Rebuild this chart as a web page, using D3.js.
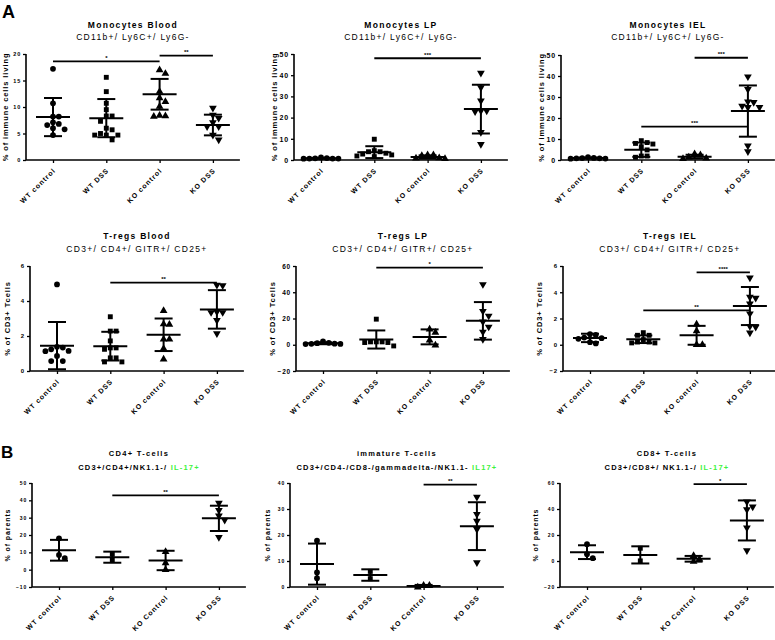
<!DOCTYPE html>
<html><head><meta charset="utf-8">
<script src="https://cdn.jsdelivr.net/npm/d3@7"></script>
<style>body{margin:0;background:#fff} text{font-family:Arial,"Liberation Sans",sans-serif;fill:#000}</style>
</head><body><svg id="c" width="775" height="640"></svg>
<script>
// ---------- data ----------
const categories = ["WT control", "WT DSS", "KO control", "KO DSS"];
const categoriesB = ["WT control", "WT DSS", "KO Control", "KO DSS"];

// Monocytes Blood
const monoBloodValues = [
  [17.2, 10.7, 8.2, 8.2, 7.1, 6.8, 6.6, 6.0, 5.8, 4.7],
  [15.6, 12.9, 10.7, 9.5, 8.3, 8.3, 7.3, 6.0, 5.7, 5.0, 4.7, 4.7, 4.7, 3.8],
  [17.0, 16.3, 12.9, 11.7, 11.0, 10.1, 8.4, 8.2, 8.3],
  [9.8, 8.5, 7.9, 7.1, 6.3, 6.3, 4.7, 3.8]];
const monoBloodMean = [8.1, 7.9, 12.4, 6.6];
const monoBloodSD = [3.6, 3.6, 2.9, 1.95];
const monoBloodSig = [[0, 2, 18.6, "*"], [2, 3, 19.7, "**"]];
const monoBloodTicks = [0, 5, 10, 15, 20];

// Monocytes LP
const monoLPValues = [
  [0.8, 0.7, 0.7, 0.6, 0.7, 0.9, 1.2],
  [9.8, 4.4, 3.9, 3.9, 3.2, 2.8, 2.4, 1.9, 1.6],
  [2.4, 2.4, 2.0, 0.9, 0.6, 0.8],
  [41, 34.2, 27.9, 23.2, 23.2, 22.9, 13.1, 7.4]];
const monoLPMean = [0.8, 3.7, 1.4, 24.0];
const monoLPSD = [0.2, 2.8, 0.8, 11.5];
const monoLPSig = [[1, 3, 48, "***"]];
const monoLPTicks = [0, 10, 20, 30, 40, 50];

// Monocytes IEL
const monoIELValues = [
  [0.9, 0.8, 0.6, 0.7, 0.8, 1.0, 1.4],
  [9.2, 8.3, 7.9, 7.6, 6.3, 4.8, 1.9, 1.9, 1.3],
  [2.9, 2.4, 1.3, 0.8, 0.6],
  [39.7, 33.7, 27.8, 27.5, 25.7, 25.1, 25.1, 6.8, 4.0]];
const monoIELMean = [0.9, 4.9, 1.6, 23.3];
const monoIELSD = [0.25, 3.4, 0.9, 12.2];
const monoIELSig = [[2, 3, 48.7, "***"], [1, 3, 15.9, "***"]];
const monoIELTicks = [0, 10, 20, 30, 40, 50];

// T-regs Blood
const tregBloodValues = [
  [4.95, 1.38, 1.34, 1.24, 1.15, 1.13, 0.86, 0.57, 0.57],
  [3.1, 2.28, 2.28, 1.72, 1.32, 1.32, 1.24, 0.75, 0.75, 0.52, 0.52],
  [3.44, 2.68, 2.66, 1.82, 1.82, 1.28, 0.67],
  [4.91, 4.88, 3.38, 3.35, 3.35, 2.9, 2.14]];
const tregBloodMean = [1.45, 1.42, 2.07, 3.52];
const tregBloodSD = [1.35, 0.82, 0.93, 1.1];
const tregBloodSig = [[1, 3, 5.05, "**"]];
const tregBloodTicks = [0, 2, 4, 6];

// T-regs LP
const tregLPValues = [
  [1.5, 0.8, 0.5, 0.6, 0.7, 1.2, 2.5],
  [19.5, 2.2, 2.2, 2.2, 1.7, 1.7, -0.9],
  [11.8, 9.3, 3.4, -0.4],
  [46, 25.6, 22.0, 17.5, 13.6, 9.8, 4.2]];
const tregLPMean = [1.1, 4.0, 6.0, 18.2];
const tregLPSD = [0.7, 6.9, 5.7, 14.3];
const tregLPSig = [[1, 3, 58.7, "*"]];
const tregLPTicks = [-20, 0, 20, 40, 60];

// T-regs IEL
const tregIELValues = [
  [0.8, 0.75, 0.55, 0.5, 0.45, 0.2, 0.1],
  [0.92, 0.72, 0.72, 0.39, 0.21, 0.21, 0.14, 0.14],
  [1.56, 1.05, 0.0, 0.0],
  [5.11, 3.64, 3.56, 3.13, 2.37, 1.41, 1.35, 0.92]];
const tregIELMean = [0.52, 0.42, 0.72, 2.95];
const tregIELSD = [0.32, 0.29, 0.72, 1.45];
const tregIELSig = [[2, 3, 5.52, "****"], [1, 3, 2.62, "**"]];
const tregIELTicks = [-2, 0, 2, 4, 6];

// CD4+ T-cells IL-17+
const cd4Values = [[18.1, 8.5, 6.6], [8.9, 5.7], [10.4, 3.8, -0.1], [38.5, 34.3, 31.1, 28.6, 18.7]];
const cd4Mean = [11.2, 7.2, 5.3, 29.6];
const cd4SD = [6.0, 3.2, 5.6, 7.3];
const cd4Sig = [[1, 3, 42.9, "**"]];
const cd4Ticks = [-10, 0, 10, 20, 30, 40, 50];

// immature T-cells IL17+
const immValues = [[17.8, 5.6, 3.4], [6.0, 3.2], [0.6, 0.6, -0.1], [34.6, 28.0, 25.4, 22.2, 9.4]];
const immMean = [8.8, 4.6, 0.4, 23.4];
const immSD = [7.9, 2.2, 0.4, 9.2];
const immSig = [[2, 3, 39.4, "**"]];
const immTicks = [0, 10, 20, 30, 40];

// CD8+ T-cells IL-17+
const cd8Values = [[12.9, 5.2, 2.2], [9.8, 0.1], [4.0, 1.4, -0.4], [45.5, 41.7, 39.6, 25.6, 8.0]];
const cd8Mean = [6.8, 4.7, 1.7, 31.2];
const cd8SD = [5.3, 6.6, 2.2, 15.4];
const cd8Sig = [[2, 3, 59.2, "*"]];
const cd8Ticks = [-20, 0, 20, 40, 60];

const GREEN = "#3df23d";

// ---------- panel table (built from the arrays above) ----------
const panels = [
  {title: "Monocytes Blood", sub: [["CD11b+/ Ly6C+/ Ly6G-", "#000"]], subBold: false, yt: "% of immune cells living",
   vals: monoBloodValues, mean: monoBloodMean, sd: monoBloodSD, sig: monoBloodSig, ticks: monoBloodTicks, cats: categories,
   ax: 26, yTop: 54, yBot: 160, tY: 28, sY: 40, tf: 5.5, ytx: 18, fs: 8.5, ytf: 7.5},
  {title: "Monocytes LP", sub: [["CD11b+/ Ly6C+/ Ly6G-", "#000"]], subBold: false, yt: "% of immune cells living",
   vals: monoLPValues, mean: monoLPMean, sd: monoLPSD, sig: monoLPSig, ticks: monoLPTicks, cats: categories,
   ax: 294, yTop: 54, yBot: 160, tY: 28, sY: 40, tf: 7, ytx: 17, fs: 8.5, ytf: 7.5},
  {title: "Monocytes IEL", sub: [["CD11b+/ Ly6C+/ Ly6G-", "#000"]], subBold: false, yt: "% of immune cells living",
   vals: monoIELValues, mean: monoIELMean, sd: monoIELSD, sig: monoIELSig, ticks: monoIELTicks, cats: categories,
   ax: 561, yTop: 55, yBot: 160, tY: 28, sY: 40, tf: 7, ytx: 17, fs: 8.5, ytf: 7.5},
  {title: "T-regs Blood", sub: [["CD3+/ CD4+/ GITR+/ CD25+", "#000"]], subBold: false, yt: "% of CD3+ Tcells",
   vals: tregBloodValues, mean: tregBloodMean, sd: tregBloodSD, sig: tregBloodSig, ticks: tregBloodTicks, cats: categories,
   ax: 30, yTop: 266, yBot: 371, tY: 239, sY: 252, tf: 6, ytx: 20, fs: 8.5, ytf: 7.5},
  {title: "T-regs LP", sub: [["CD3+/ CD4+/ GITR+/ CD25+", "#000"]], subBold: false, yt: "% of CD3+ Tcells",
   vals: tregLPValues, mean: tregLPMean, sd: tregLPSD, sig: tregLPSig, ticks: tregLPTicks, cats: categories,
   ax: 296, yTop: 266, yBot: 371, tY: 239, sY: 252, tf: 6.5, ytx: 21, fs: 8.5, ytf: 7.5},
  {title: "T-regs IEL", sub: [["CD3+/ CD4+/ GITR+/ CD25+", "#000"]], subBold: false, yt: "% of CD3+ Tcells",
   vals: tregIELValues, mean: tregIELMean, sd: tregIELSD, sig: tregIELSig, ticks: tregIELTicks, cats: categories,
   ax: 563, yTop: 266, yBot: 371, tY: 239, sY: 252, tf: 6, ytx: 21, fs: 8.5, ytf: 7.5},
  {title: "CD4+ T-cells", sub: [["CD3+/CD4+/NK1.1-/ ", "#000"], ["IL-17+", GREEN]], subBold: true, yt: "% of parents",
   vals: cd4Values, mean: cd4Mean, sd: cd4SD, sig: cd4Sig, ticks: cd4Ticks, cats: categoriesB,
   ax: 32, yTop: 483, yBot: 587, tY: 456, sY: 470, tf: 5, ytx: 22, fs: 7.5, ytf: 7},
  {title: "immature T-cells", sub: [["CD3+/CD4-/CD8-/gammadelta-/NK1.1- ", "#000"], ["IL17+", GREEN]], subBold: true, yt: "% of parents",
   vals: immValues, mean: immMean, sd: immSD, sig: immSig, ticks: immTicks, cats: categoriesB,
   ax: 290, yTop: 483, yBot: 587, tY: 456, sY: 470, tf: 5, ytx: 20, fs: 7.5, ytf: 7},
  {title: "CD8+ T-cells", sub: [["CD3+/CD8+/ NK1.1-/ ", "#000"], ["IL-17+", GREEN]], subBold: true, yt: "% of parents",
   vals: cd8Values, mean: cd8Mean, sd: cd8SD, sig: cd8Sig, ticks: cd8Ticks, cats: categoriesB,
   ax: 560, yTop: 483, yBot: 587, tY: 456, sY: 470, tf: 5, ytx: 22, fs: 7.5, ytf: 7}
];

const svg = d3.select("#c");
const shapes = [d3.symbolCircle, d3.symbolSquare, d3.symbolTriangle, d3.symbolTriangle];
const shapeSize = [26, 24, 26, 26];

function swarm(vals, y, s) {
  const pts = vals.map(v => ({v, y: y(v), x: 0})).sort((a, b) => a.y - b.y);
  const placed = [];
  pts.forEach(p => {
    for (let k = 0; k < 60; k++) {
      const off = k === 0 ? 0 : (k % 2 ? 1 : -1) * Math.ceil(k / 2) * s;
      if (placed.every(q => (q.x - off) ** 2 + (q.y - p.y) ** 2 >= s * s * 0.9)) { p.x = off; break; }
    }
    placed.push(p);
  });
  return placed;
}

panels.forEach(P => {
  const g = svg.append("g");
  const first = P.ax + 27, step = 53.3;
  const x = d3.scalePoint().domain(P.cats).range([first, first + 3 * step]);
  const xEnd = first + 3 * step + 27;
  const dom = d3.extent(P.ticks);
  const y = d3.scaleLinear().domain(dom).range([P.yBot, P.yTop]);
  const cx = (P.ax + xEnd) / 2;

  // titles
  g.append("text").attr("x", cx).attr("y", P.tY).attr("text-anchor", "middle")
    .style("font-size", P.fs + "px").style("font-weight", "bold").style("letter-spacing", "1.3px").text(P.title);
  const st = g.append("text").attr("x", cx).attr("y", P.sY).attr("text-anchor", "middle")
    .style("font-size", P.fs + "px").style("font-weight", P.subBold ? "bold" : "normal").style("letter-spacing", P.subBold ? "1.2px" : "1.3px");
  P.sub.forEach(s => st.append("tspan").style("fill", s[1]).text(s[0]));

  // y axis
  const yAxis = d3.axisLeft(y).tickValues(P.ticks).tickSize(3).tickPadding(2).tickFormat(d3.format("d"));
  const ya = g.append("g").attr("transform", `translate(${P.ax},0)`).call(yAxis);
  ya.select(".domain").attr("d", `M0,${P.yTop}V${P.yBot}`).attr("stroke-width", 1.6);
  ya.selectAll(".tick line").attr("stroke-width", 1.3);
  ya.selectAll(".tick text").style("font-size", P.tf + "px").style("font-weight", "bold").style("letter-spacing", "0.8px");

  // x axis
  const xAxis = d3.axisBottom(x).tickSize(3).tickFormat("");
  const xa = g.append("g").attr("transform", `translate(0,${P.yBot})`).call(xAxis);
  xa.select(".domain").attr("d", `M${P.ax},0H${xEnd}`).attr("stroke-width", 1.6);
  xa.selectAll(".tick line").attr("stroke-width", 1.3);
  P.cats.forEach(c => {
    g.append("text").attr("text-anchor", "end")
      .attr("transform", `translate(${x(c) + 3},${P.yBot + 11}) rotate(-45)`)
      .style("font-size", "7px").style("font-weight", "bold").style("letter-spacing", "1px").text(c);
  });

  // y title
  g.append("text").attr("text-anchor", "middle")
    .attr("transform", `translate(${P.ax - P.ytx},${(P.yTop + P.yBot) / 2}) rotate(-90)`)
    .style("font-size", P.ytf + "px").style("font-weight", "bold").style("letter-spacing", "0.9px").text(P.yt);

  // error bars and means
  P.cats.forEach((c, i) => {
    const xc = x(c), m = P.mean[i], s = P.sd[i];
    const lo = Math.max(m - s, dom[0]);
    g.append("line").attr("x1", xc).attr("x2", xc).attr("y1", y(m + s)).attr("y2", y(lo)).attr("stroke", "#000").attr("stroke-width", 2);
    [m + s, m - s].forEach(v => {
      if (v < dom[0]) return;
      g.append("line").attr("x1", xc - 9).attr("x2", xc + 9).attr("y1", y(v)).attr("y2", y(v)).attr("stroke", "#000").attr("stroke-width", 2);
    });
    g.append("line").attr("x1", xc - 17).attr("x2", xc + 17).attr("y1", y(m)).attr("y2", y(m)).attr("stroke", "#000").attr("stroke-width", 2);

    // points
    const pts = swarm(P.vals[i], y, 5.8);
    const sym = d3.symbol().type(shapes[i]).size(shapeSize[i]);
    g.selectAll(null).data(pts).join("path")
      .attr("d", sym)
      .attr("transform", d => `translate(${xc + d.x},${d.y})${i === 3 ? " rotate(180)" : ""}`)
      .attr("fill", "#000");
  });

  // significance bars
  P.sig.forEach(([a, b, v, lab]) => {
    g.append("line").attr("x1", x(P.cats[a])).attr("x2", x(P.cats[b])).attr("y1", y(v)).attr("y2", y(v))
      .attr("stroke", "#000").attr("stroke-width", 1.8);
    g.append("text").attr("x", (x(P.cats[a]) + x(P.cats[b])) / 2).attr("y", y(v) - 1.5).attr("text-anchor", "middle")
      .style("font-size", "6px").style("font-weight", "bold").text(lab);
  });
});

// panel letters
svg.append("text").attr("x", 2).attr("y", 18).style("font-size", "18px").style("font-weight", "bold").text("A");
svg.append("text").attr("x", 1).attr("y", 458).style("font-size", "17px").style("font-weight", "bold").text("B");
</script></body></html>
